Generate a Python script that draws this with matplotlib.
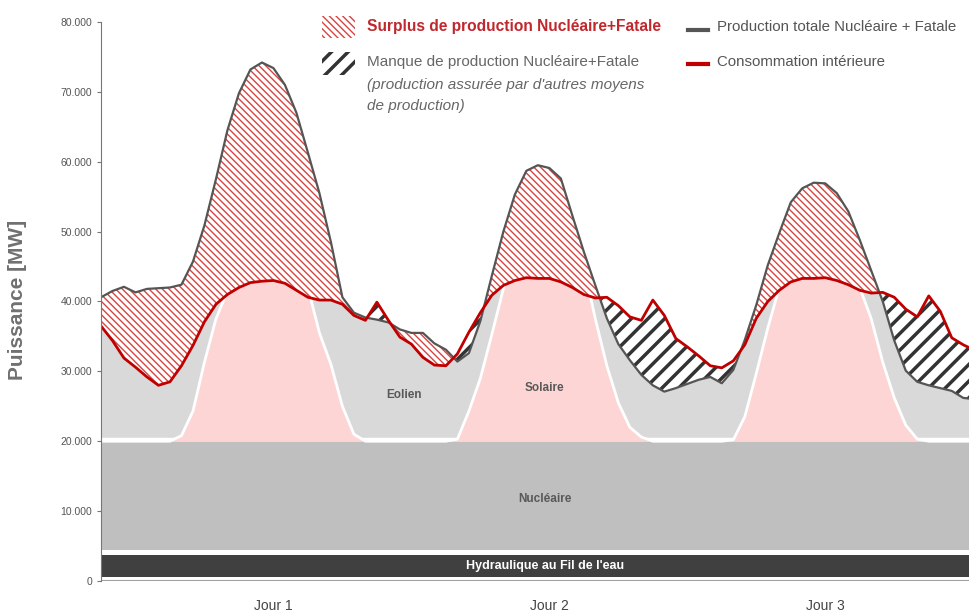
import numpy as np
import matplotlib.pyplot as plt
from matplotlib.patches import Rectangle
from matplotlib.lines import Line2D
from matplotlib.ticker import FuncFormatter

plt.rcParams['font.family'] = ['Liberation Sans', 'DejaVu Sans']

# heures sur 3 jours (midi = 12, 36, 60)
heures = np.arange(-3, 74)

# Production totale Nucléaire + Fatale [MW]
production = [
    40600, 41500, 42100, 41300, 41800, 41900, 42000, 42400, 45700, 50900,
    57500, 64500, 69800, 73200, 74200, 73400, 71000, 67000, 61300, 55500,
    48500, 40600, 38400, 37700, 37400, 37000, 36000, 35500, 35500, 34000,
    33100, 31400, 32600, 37200, 43700, 50000, 55300, 58700, 59500, 59100,
    57600, 52300, 47100, 42300, 37600, 33900, 31600, 29500, 28000, 27100,
    27600, 28200, 28800, 29200, 28300, 30200, 34500, 39500, 45200, 49800,
    54200, 56200, 57000, 56900, 55500, 52900, 48800, 44400, 40000, 34400,
    30100, 28500, 28000, 27600, 27200, 26200, 26000,
]

# Consommation intérieure [MW]
consommation = [
    36500, 34400, 31900, 30600, 29200, 28000, 28500, 30800, 33700, 37100,
    39600, 41000, 42000, 42700, 42900, 43000, 42600, 41600, 40600, 40200,
    40200, 39600, 38000, 37300, 39900, 37300, 34900, 33900, 32000, 30900,
    30800, 32500, 35600, 38400, 40900, 42300, 43000, 43400, 43300, 43300,
    42800, 42000, 41000, 40500, 40600, 39400, 37800, 37300, 40200, 38000,
    34700, 33500, 32200, 30800, 30500, 31500, 33800, 37600, 40000, 41600,
    42800, 43300, 43300, 43400, 43000, 42400, 41600, 41200, 41300, 40600,
    38900, 37800, 40800, 38600, 34800, 33800, 33000,
]

# enveloppe de la cloche solaire [MW]
solaire = [
    20000, 20000, 20000, 20000, 20000, 20000, 20000,
    20800, 24300, 31300, 37500, 41500,
    50000, 50000, 50000, 50000, 50000, 50000,
    42000, 35500, 31000, 25000, 21000,
    20000, 20000, 20000, 20000, 20000, 20000, 20000, 20000,
    20300, 24300, 29000, 35300, 41800,
    50000, 50000, 50000, 50000, 50000, 50000,
    45000, 37500, 30800, 25500, 22000, 20600,
    20000, 20000, 20000, 20000, 20000, 20000, 20000,
    20200, 23500, 29700, 36200, 42000,
    50000, 50000, 50000, 50000, 50000, 50000,
    42000, 37500, 31300, 26200, 22300, 20300,
    20000, 20000, 20000, 20000, 20000,
]

hydraulique = (600, 3700)
nucleaire = (4400, 20000)

jours = [12, 36, 60]
jours_labels = ["Jour 1", "Jour 2", "Jour 3"]

prod = np.array(production, dtype=float)
conso = np.array(consommation, dtype=float)
base = nucleaire[1]
top = 80000


def enveloppes(x, a, b):
    # min / max des deux courbes, avec les points de croisement
    xs, lo, hi = [], [], []
    for i in range(len(x) - 1):
        xs.append(x[i]); lo.append(min(a[i], b[i])); hi.append(max(a[i], b[i]))
        d0 = a[i] - b[i]
        d1 = a[i + 1] - b[i + 1]
        if d0 * d1 < 0:
            f = d0 / (d0 - d1)
            yc = a[i] + f * (a[i + 1] - a[i])
            xs.append(x[i] + f * (x[i + 1] - x[i])); lo.append(yc); hi.append(yc)
    xs.append(x[-1]); lo.append(min(a[-1], b[-1])); hi.append(max(a[-1], b[-1]))
    return np.array(xs), np.array(lo), np.array(hi)


xe, bas, haut = enveloppes(heures, prod, conso)

fig = plt.figure(figsize=(9.69, 6.12), dpi=100)
ax = fig.add_axes([0.1042, 0.0507, 0.8958, 0.9134])

# bandes nucléaire / hydraulique
ax.axhspan(hydraulique[0], hydraulique[1], color="#404040", lw=0, zorder=1)
ax.axhspan(nucleaire[0], nucleaire[1], color="#bfbfbf", lw=0, zorder=1)
ax.axhline(0, color="#a0a0a0", lw=1.5, zorder=1)

# éolien (gris) jusqu'au min des deux courbes
ax.fill_between(xe, base, bas, color="#d9d9d9", lw=0, zorder=1.5)
ax.axhline(base + 300, color="white", lw=2.5, zorder=1.6)

# solaire (rose)
ax.fill_between(heures, base, solaire, color="#fdd5d5", lw=0, zorder=2)
ax.plot(heures, solaire, color="white", lw=2, zorder=2.1)

# blanc au-dessus des courbes
ax.fill_between(xe, haut, top, color="white", lw=0, zorder=2.5)

# surplus / manque
with plt.rc_context({"hatch.linewidth": 1.0}):
    ax.fill_between(heures, conso, prod, where=prod >= conso, interpolate=True,
                    facecolor="white", edgecolor="#d64541", hatch="\\\\\\\\\\",
                    lw=0, zorder=3)
with plt.rc_context({"hatch.linewidth": 2.5}):
    ax.fill_between(heures, prod, conso, where=conso > prod, interpolate=True,
                    facecolor="white", edgecolor="#333333", hatch="//",
                    lw=0, zorder=3)

ax.plot(heures, prod, color="#555555", lw=1.6, zorder=4)
ax.plot(heures, conso, color="#c00000", lw=2.0, zorder=5)

# étiquettes internes
lab = dict(fontweight="bold", fontsize=8.5, color="#595959", ha="center", va="center", zorder=6)
ax.text(23.4, 26600, "Eolien", **lab)
ax.text(35.6, 27600, "Solaire", **lab)
ax.text(35.6, 11700, "Nucléaire", **lab)
ax.text(35.6, 2150, "Hydraulique au Fil de l'eau", fontweight="bold", fontsize=9,
        color="white", ha="center", va="center", zorder=6)

ax.set_xlim(-3, 72.5)
ax.set_ylim(0, 80000)
ax.set_yticks(np.arange(0, 80001, 10000))
ax.yaxis.set_major_formatter(FuncFormatter(lambda v, p: "0" if v == 0 else f"{v/1000:.0f}.000"))
ax.set_xticks(jours)
ax.set_xticklabels(jours_labels)
ax.tick_params(axis="x", length=0, pad=13, labelsize=10, labelcolor="#444444")
ax.tick_params(axis="y", length=3, color="#777777", labelsize=7.5, labelcolor="#555555")
for s in ["top", "right", "bottom"]:
    ax.spines[s].set_visible(False)
ax.spines["left"].set_color("#777777")
ax.spines["left"].set_zorder(7)

fig.text(18 / 969, 1 - 300 / 612, "Puissance [MW]", rotation=90, ha="center", va="center",
         fontsize=15, fontweight="bold", color="#707070")


# légende
def fx(px):
    return px / 969


def fy(py):
    return 1 - py / 612


with plt.rc_context({"hatch.linewidth": 1.0}):
    fig.add_artist(Rectangle((fx(322), fy(38)), fx(355) - fx(322), fy(16) - fy(38),
                             transform=fig.transFigure, facecolor="white",
                             edgecolor="#d64541", hatch="\\\\\\\\\\", lw=0))
with plt.rc_context({"hatch.linewidth": 2.5}):
    fig.add_artist(Rectangle((fx(322), fy(75)), fx(355) - fx(322), fy(52) - fy(75),
                             transform=fig.transFigure, facecolor="white",
                             edgecolor="#333333", hatch="//", lw=0))

fig.text(fx(367), fy(27), "Surplus de production Nucléaire+Fatale", color="#c0282d",
         fontsize=11.2, fontweight="bold", va="center")
fig.text(fx(367), fy(62), "Manque de production Nucléaire+Fatale", color="#666666",
         fontsize=11, va="center")
fig.text(fx(367), fy(85), "(production assurée par d'autres moyens", color="#666666",
         fontsize=11, style="italic", va="center")
fig.text(fx(367), fy(106), "de production)", color="#666666",
         fontsize=11, style="italic", va="center")

fig.add_artist(Line2D([fx(688), fx(708)], [fy(30), fy(30)], color="#555555", lw=3))
fig.add_artist(Line2D([fx(688), fx(708)], [fy(64), fy(64)], color="#c00000", lw=3))
fig.text(fx(717), fy(27), "Production totale Nucléaire + Fatale", color="#555555",
         fontsize=10.8, va="center")
fig.text(fx(717), fy(62), "Consommation intérieure", color="#555555",
         fontsize=10.8, va="center")

fig.savefig("out.png", dpi=100)
